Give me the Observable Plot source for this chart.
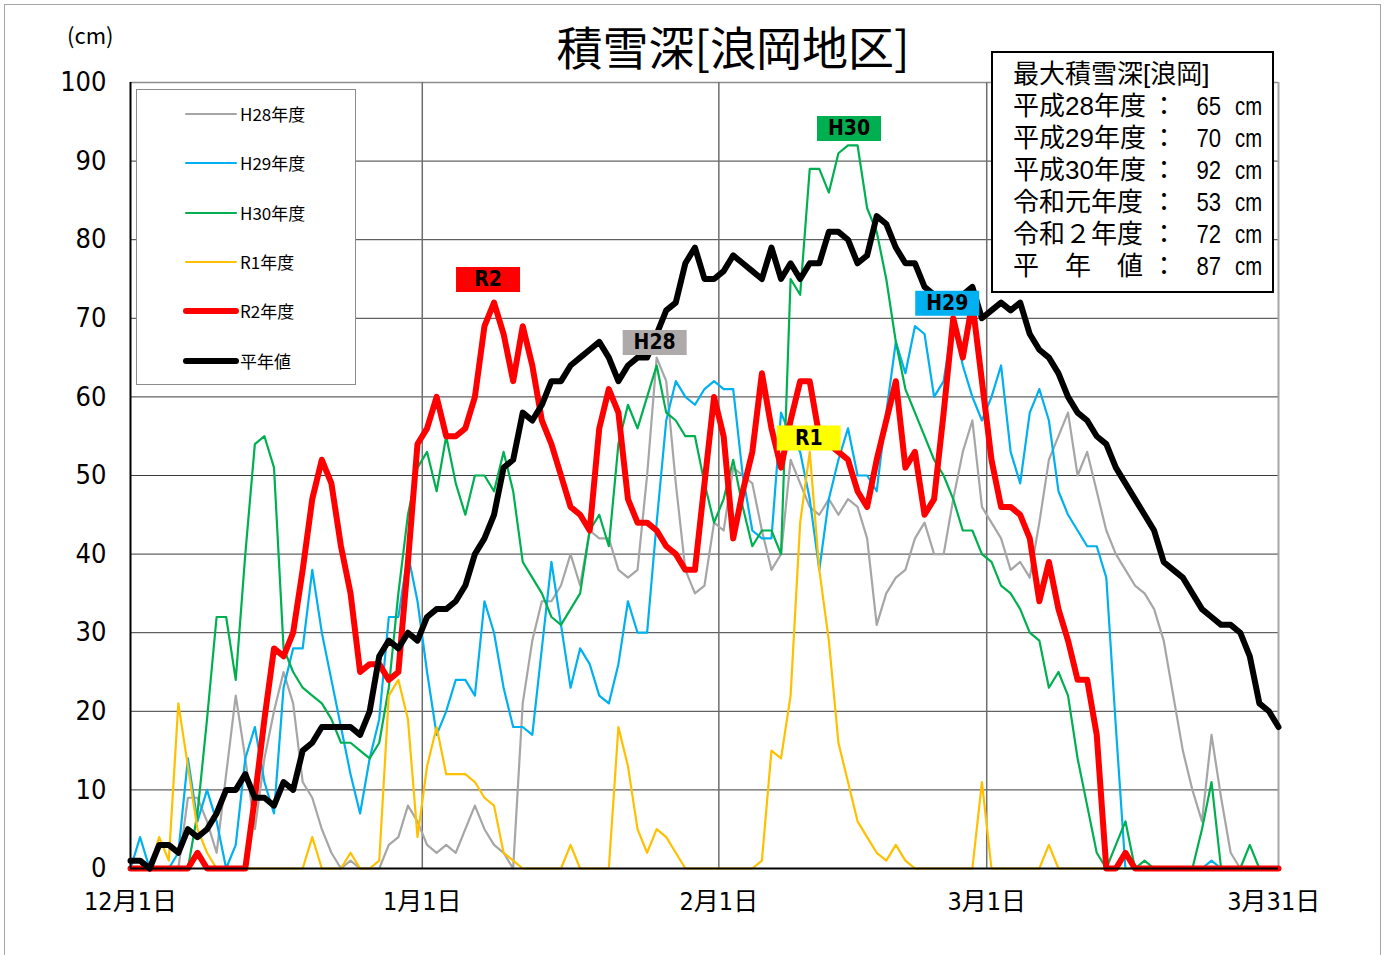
<!DOCTYPE html>
<html><head><meta charset="utf-8">
<script src="https://cdn.jsdelivr.net/npm/d3@7"></script>
<script src="https://cdn.jsdelivr.net/npm/@observablehq/plot@0.6"></script>
<style>
body{margin:0;background:#fff;}
#wrap{position:relative;width:1386px;height:955px;overflow:hidden;font-family:"Noto Sans CJK JP",sans-serif;color:#000;}
#frame{position:absolute;left:4px;top:4px;width:1377px;height:960px;border:1px solid #a6a6a6;box-sizing:border-box;}
#chart{position:absolute;left:0;top:0;}
#title{position:absolute;left:433px;width:600px;top:17px;text-align:center;font-size:46px;line-height:56px;}
#unit{position:absolute;left:67px;top:19px;font-size:22px;line-height:30px;}
#legend{position:absolute;left:136px;top:89px;width:220px;height:296px;border:1px solid #8c8c8c;background:#fff;box-sizing:border-box;}
.lg{position:absolute;left:0;height:24px;width:218px;}
.lg svg{position:absolute;left:46px;top:0;}
.lg span{position:absolute;left:103px;top:0;font-size:17px;line-height:24px;}
#info{position:absolute;left:991px;top:51px;width:283px;height:242px;border:2px solid #000;background:#fff;box-sizing:border-box;padding:5px 0 0 20px;}
.ir{font-family:"Liberation Sans","Noto Sans CJK JP",sans-serif;font-size:26px;line-height:32px;height:32px;white-space:nowrap;display:flex;}
.ir .lab{display:inline-block;width:138px;}
.ir .col{display:inline-block;width:28px;}
.ir .val{display:inline-block;width:42px;text-align:right;transform:scaleX(0.85);transform-origin:right center;}
.ir .cm{display:inline-block;margin-left:14px;transform:scaleX(0.78);transform-origin:left center;}
</style></head>
<body>
<div id="wrap">
  <div id="chart"></div>
  <div id="frame"></div>
  <div id="title"></div>
  <div id="unit"></div>
  <div id="legend"></div>
  <div id="info"></div>
</div>
<script>
// ---- data (day index 0 = 12月1日 ... 120 = 3月31日) ----
const h28 = [0,0,0,0,0,0,9,9,6,2,
 12,22,14,5,14,20,25,21,11,9,
 5,2,0,1,0,0,0,3,4,8,
 6,3,2,3,2,5,8,5,3,2,
 0,21,29,34,34,36,40,36,43,42,
 42,38,37,38,50,65,62,49,38,35,
 36,44,43,51,50,49,43,38,40,52,
 49,46,45,47,45,47,46,42,31,35,
 37,38,42,44,40,40,47,53,57,46,
 44,42,38,39,37,44,52,55,58,50,
 53,48,43,40,38,36,35,33,29,22,
 15,10,6,17,9,2,0,0,0,0,
 0];
const h29 = [0,4,0,0,0,2,14,6,10,6,
 0,3,14,18,11,7,23,28,28,38,
 30,24,18,12,7,14,19,32,32,40,
 34,25,17,20,24,24,22,34,30,23,
 18,18,17,28,39,31,23,28,26,22,
 21,26,34,30,30,44,57,62,60,59,
 61,62,61,61,50,43,42,42,58,55,
 53,47,38,47,52,56,50,50,48,58,
 67,63,69,68,60,62,70,64,60,57,
 60,64,53,49,58,61,57,48,45,43,
 41,41,37,18,0,0,0,0,0,0,
 0,0,0,1,0,0,0,0,0,0,
 0];
const h30 = [0,0,0,0,0,0,0,7,19,32,
 32,24,40,54,55,51,28,25,23,22,
 21,19,16,16,15,14,16,23,35,45,
 51,53,48,55,49,45,50,50,48,53,
 48,39,37,35,32,31,33,35,43,45,
 41,54,59,56,60,64,58,57,55,55,
 49,44,47,52,46,41,43,43,40,75,
 73,89,89,86,91,92,92,84,81,75,
 67,61,58,55,52,50,47,43,43,40,
 39,36,35,33,30,29,23,25,22,14,
 8,2,0,3,6,0,1,0,0,0,
 0,0,5,11,0,0,0,3,0,0,
 0];
const r1 = [0,0,0,4,1,21,13,5,2,0,
 0,0,0,0,0,0,0,0,0,4,
 0,0,0,2,0,0,1,22,24,19,
 4,13,18,12,12,12,11,9,8,2,
 1,0,0,0,0,0,3,0,0,0,
 0,18,13,5,2,5,4,2,0,0,
 0,0,0,0,0,0,1,15,14,22,
 44,53,38,29,16,11,6,4,2,1,
 3,1,0,0,0,0,0,0,0,11,
 0,0,0,0,0,0,3,0,0,0,
 0,0,0,0,0,0,0,0,0,0,
 0,0,0,0,0,0,0,0,0,0,
 0];
const r2 = [0,0,0,0,0,0,0,2,0,0,
 0,0,0,9,19,28,27,30,38,47,
 52,49,41,35,25,26,26,24,25,39,
 54,56,60,55,55,56,60,69,72,68,
 62,69,64,57,54,50,46,45,43,56,
 61,58,47,44,44,43,41,40,38,38,
 49,60,55,42,48,53,63,56,51,57,
 62,62,55,54,53,52,48,46,52,57,
 62,51,53,45,47,58,70,65,72,62,
 52,46,46,45,42,34,39,33,29,24,
 24,17,0,0,2,0,0,0,0,0,
 0,0,0,0,0,0,0,0,0,0,
 0];
const avg = [1,1,0,3,3,2,5,4,5,7,
 10,10,12,9,9,8,11,10,15,16,
 18,18,18,18,17,20,27,29,28,30,
 29,32,33,33,34,36,40,42,45,51,
 52,58,57,59,62,62,64,65,66,67,
 65,62,64,65,65,68,71,72,77,79,
 75,75,76,78,77,76,75,79,75,77,
 75,77,77,81,81,80,77,78,83,82,
 79,77,77,74,73,73,73,73,74,70,
 71,72,71,72,68,66,65,63,60,58,
 57,55,54,51,49,47,45,43,39,38,
 37,35,33,32,31,31,30,27,21,20,
 18];

const monthStartIdx = [31, 62, 90];          // 1月1日, 2月1日, 3月1日
const lastIdx = 120;                          // 3月31日
const xTickLabels = ["12月1日", "1月1日", "2月1日", "3月1日", "3月31日"];
const yTicks = d3.range(0, 101, 10);
const legendLabels = ["H28年度", "H29年度", "H30年度", "R1年度", "R2年度", "平年値"];
const peakLabels = ["H28", "H29", "H30", "R1", "R2"];
const maxLabels = ["平成28年度", "平成29年度", "平成30年度", "令和元年度", "令和２年度", "平　年　値"];
const maxValues = [65, 70, 92, 53, 72, 87];

// ---- styles ----
const seriesList = [h28, h29, h30, r1, r2, avg];
const colors = ["#A6A6A6", "#00B0F0", "#00B050", "#FFC000", "#FF0000", "#000000"];
const widths = [2.2, 2.2, 2.2, 2.2, 6, 6];
const peakBg = ["#AEAAAA", "#00B0F0", "#00B050", "#FFFF00", "#FF0000"];
const peakDx = [-2, -6, 1, -1, -6];
const peakDy = [-15, -15, -17, -14, -23];
const narrow = "'Liberation Sans Narrow','Arial Narrow','DejaVu Sans Condensed','Noto Sans CJK JP',sans-serif";

// category-style grid: month boundaries sit half a day before the 1st
const gridX = monthStartIdx.map(d => d - 0.5);
const xTickPos = [0, ...gridX, lastIdx - 0.5];
const tickLabelMap = new Map(xTickPos.map((p, k) => [p, xTickLabels[k]]));

const annots = peakLabels.map((label, k) => {
  const s = seriesList[k];
  const i = d3.maxIndex(s);
  return {label, i, v: s[i], bg: peakBg[k], dx: peakDx[k], dy: peakDy[k]};
});

const boxSymbol = {draw(ctx) { ctx.rect(-32, -12.5, 64, 25); }};

const lineMarks = seriesList.map((s, k) =>
  Plot.line(s, {x: (d, i) => i, y: d => d, stroke: colors[k], strokeWidth: widths[k],
    strokeLinejoin: "round", strokeLinecap: "round"}));

const annotMarks = annots.flatMap(a => [
  Plot.dot([a], {x: "i", y: "v", dx: a.dx, dy: a.dy, r: 5, symbol: boxSymbol, fill: a.bg, stroke: "none"}),
  Plot.text([a], {x: "i", y: "v", dx: a.dx, dy: a.dy, text: "label", fontSize: 21, fontWeight: "bold", fontFamily: narrow, fill: "#000"})
]);

const chart = Plot.plot({
  width: 1386, height: 955,
  marginLeft: 130, marginRight: 108, marginTop: 82, marginBottom: 87,
  x: {domain: [0, lastIdx]},
  y: {domain: [0, 100]},
  style: {background: "transparent", overflow: "visible"},
  marks: [
    Plot.ruleY(yTicks.filter(v => v > 0 && v < 100), {stroke: "#3c3c3c", strokeWidth: 1}),
    Plot.ruleY([100], {stroke: "#8c8c8c", strokeWidth: 1.5}),
    Plot.ruleX(gridX, {stroke: "#6e6e6e", strokeWidth: 1.5}),
    Plot.ruleX([lastIdx], {stroke: "#a6a6a6", strokeWidth: 2}),
    ...lineMarks,
    Plot.ruleX([0], {stroke: "#000", strokeWidth: 2}),
    Plot.ruleY([0], {stroke: "#000", strokeWidth: 2}),
    ...annotMarks,
    Plot.axisY({ticks: yTicks, tickSize: 0, tickPadding: 24, fontSize: 27, fontFamily: narrow, label: null}),
    Plot.axisX({ticks: xTickPos, tickSize: 0, tickPadding: 24, fontSize: 25, fontFamily: narrow, label: null,
      tickFormat: d => tickLabelMap.get(d)})
  ]
});
document.getElementById("chart").appendChild(chart);

document.getElementById("title").textContent = "積雪深[浪岡地区]";
document.getElementById("unit").textContent = "(cm)";

// legend
const lg = document.getElementById("legend");
legendLabels.forEach((t, k) => {
  const row = document.createElement("div");
  row.className = "lg";
  row.style.top = (12 + k * 49.3) + "px";
  const sw = widths[k] > 3 ? 6 : 2;
  row.innerHTML = `<svg width="56" height="24"><line x1="3" x2="53" y1="12" y2="12" stroke="${colors[k]}" stroke-width="${sw}" stroke-linecap="round"/></svg><span>${t}</span>`;
  lg.appendChild(row);
});

// max info box
const info = document.getElementById("info");
const head = document.createElement("div");
head.className = "ir";
head.textContent = "最大積雪深[浪岡]";
info.appendChild(head);
maxLabels.forEach((t, k) => {
  const row = document.createElement("div");
  row.className = "ir";
  row.innerHTML = `<span class="lab">${t}</span><span class="col">：</span><span class="val">${maxValues[k]}</span><span class="cm">cm</span>`;
  info.appendChild(row);
});
</script>
</body></html>
